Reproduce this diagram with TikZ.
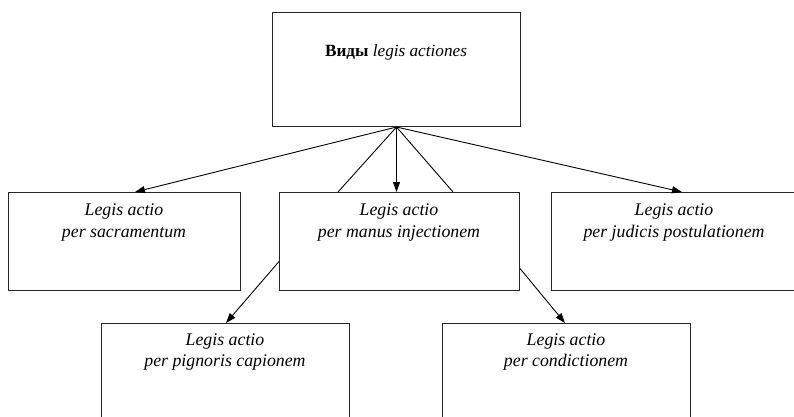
\documentclass[tikz,border=0pt]{standalone}
\usepackage{fontspec}
\setmainfont{Liberation Serif}
\usetikzlibrary{arrows.meta,calc}
\begin{document}
\begin{tikzpicture}[x=1pt,y=-1pt,
  box/.style={draw=black!85,line width=1pt,rectangle,inner sep=0pt,anchor=north west},
  lbl/.style={align=center,inner sep=0pt,anchor=base,font=\fontsize{17.8}{21.5}\selectfont\itshape},
  arr/.style={line width=0.9pt,-{Triangle[length=10pt,width=7pt]}},
  ln/.style={line width=0.9pt}]
\useasboundingbox (0,0) rectangle (794,416);
\clip (0,0) rectangle (794,416);
\node[box,minimum width=248pt,minimum height=114pt] (top) at (272,12) {};
\node[box,minimum width=232pt,minimum height=98pt] (lb) at (8,192) {};
\node[box,minimum width=240pt,minimum height=98pt] (cb) at (279,192) {};
\node[box,minimum width=260pt,minimum height=98pt] (rb) at (551,192) {};
\node[box,minimum width=248pt,minimum height=130pt] (blb) at (101,323) {};
\node[box,minimum width=248pt,minimum height=130pt] (brb) at (442,323) {};
\node[lbl,font=\fontsize{17.2}{21}\selectfont] (ttop) at (396,56) {\textbf{Виды} \textit{legis actiones}};
\node[lbl] (tlb) at (124,237) {Legis actio\\per sacramentum};
\node[lbl] (tcb) at (399,237) {Legis actio\\per manus injectionem};
\node[lbl] (trb) at (674,237) {Legis actio\\per judicis postulationem};
\node[lbl] (tblb) at (225,366.5) {Legis actio\\per pignoris capionem};
\node[lbl] (tbrb) at (566,366.5) {Legis actio\\per condictionem};
\draw[arr] (top.south) -- ([xshift=127pt]lb.north west);
\draw[arr] (top.south) -- (cb.north -| top.south);
\draw[arr] (top.south) -- ([xshift=131pt]rb.north west);
\draw[ln] (top.south) -- ([xshift=59pt]cb.north west);
\draw[ln] (top.south) -- ([xshift=174pt]cb.north west);
\draw[arr] ([yshift=-20pt]cb.west) -- ([xshift=125pt]blb.north west);
\draw[arr] ([yshift=-27pt]cb.east) -- ([xshift=123pt]brb.north west);
\end{tikzpicture}
\end{document}
